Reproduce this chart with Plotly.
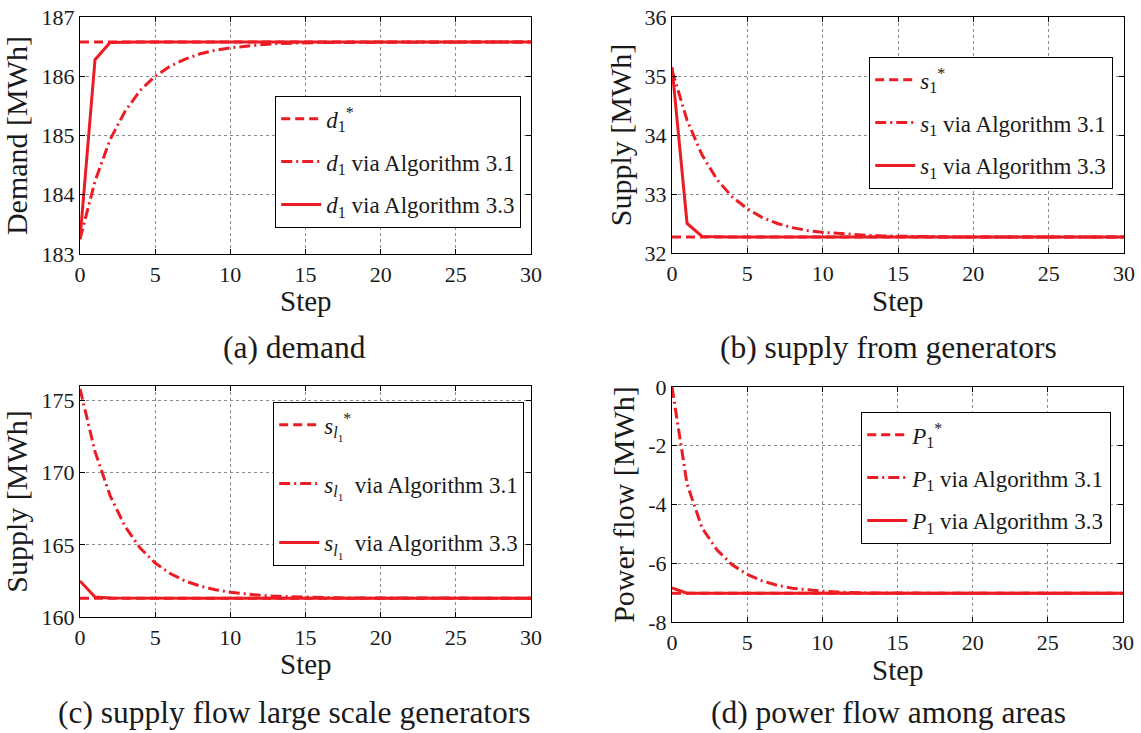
import plotly.graph_objects as go

# ---------------- data ----------------
steps = list(range(31))
steps_ref = [0, 30]

d_star = [186.58, 186.58]
d_alg31 = [183.25, 184.23, 184.93, 185.41, 185.76, 186.00, 186.17, 186.29, 186.38, 186.44,
           186.48, 186.51, 186.53, 186.55, 186.56, 186.56, 186.57, 186.57, 186.57, 186.58,
           186.58, 186.58, 186.58, 186.58, 186.58, 186.58, 186.58, 186.58, 186.58, 186.58,
           186.58]
d_alg33 = [183.25, 186.28, 186.57, 186.58, 186.58, 186.58, 186.58, 186.58, 186.58, 186.58,
           186.58, 186.58, 186.58, 186.58, 186.58, 186.58, 186.58, 186.58, 186.58, 186.58,
           186.58, 186.58, 186.58, 186.58, 186.58, 186.58, 186.58, 186.58, 186.58, 186.58,
           186.58]

s_star = [32.27, 32.27]
s_alg31 = [35.10, 34.25, 33.66, 33.24, 32.95, 32.75, 32.60, 32.50, 32.43, 32.38,
           32.35, 32.33, 32.31, 32.30, 32.29, 32.28, 32.28, 32.28, 32.27, 32.27,
           32.27, 32.27, 32.27, 32.27, 32.27, 32.27, 32.27, 32.27, 32.27, 32.27,
           32.27]
s_alg33 = [35.15, 32.50, 32.28, 32.27, 32.27, 32.27, 32.27, 32.27, 32.27, 32.27,
           32.27, 32.27, 32.27, 32.27, 32.27, 32.27, 32.27, 32.27, 32.27, 32.27,
           32.27, 32.27, 32.27, 32.27, 32.27, 32.27, 32.27, 32.27, 32.27, 32.27,
           32.27]

sl_star = [161.30, 161.30]
sl_alg31 = [175.80, 171.45, 168.41, 166.27, 164.78, 163.74, 163.01, 162.49, 162.14, 161.89,
            161.71, 161.59, 161.50, 161.44, 161.40, 161.37, 161.35, 161.33, 161.32, 161.32,
            161.31, 161.31, 161.31, 161.30, 161.30, 161.30, 161.30, 161.30, 161.30, 161.30,
            161.30]
sl_alg33 = [162.50, 161.38, 161.31, 161.30, 161.30, 161.30, 161.30, 161.30, 161.30, 161.30,
            161.30, 161.30, 161.30, 161.30, 161.30, 161.30, 161.30, 161.30, 161.30, 161.30,
            161.30, 161.30, 161.30, 161.30, 161.30, 161.30, 161.30, 161.30, 161.30, 161.30,
            161.30]

p_star = [-7.02, -7.02]
p_alg31 = [0.00, -3.30, -4.80, -5.55, -6.05, -6.38, -6.60, -6.75, -6.85, -6.91,
           -6.95, -6.98, -7.00, -7.01, -7.01, -7.02, -7.02, -7.02, -7.02, -7.02,
           -7.02, -7.02, -7.02, -7.02, -7.02, -7.02, -7.02, -7.02, -7.02, -7.02,
           -7.02]
p_alg33 = [-6.84, -7.02, -7.02, -7.02, -7.02, -7.02, -7.02, -7.02, -7.02, -7.02,
           -7.02, -7.02, -7.02, -7.02, -7.02, -7.02, -7.02, -7.02, -7.02, -7.02,
           -7.02, -7.02, -7.02, -7.02, -7.02, -7.02, -7.02, -7.02, -7.02, -7.02,
           -7.02]

x_ticks = [0, 5, 10, 15, 20, 25, 30]
y_ticks_a = [183, 184, 185, 186, 187]
y_ticks_b = [32, 33, 34, 35, 36]
y_ticks_c = [160, 165, 170, 175]
y_ticks_d = [-8, -6, -4, -2, 0]
y_ticktext_d = ["-8", "-6", "-4", "-2", "0"]

names_a = ["<i>d</i><sub>1</sub><sup>*</sup>",
           "<i>d</i><sub>1</sub> via Algorithm 3.1",
           "<i>d</i><sub>1</sub> via Algorithm 3.3"]
names_b = ["<i>s</i><sub>1</sub><sup>*</sup>",
           "<i>s</i><sub>1</sub> via Algorithm 3.1",
           "<i>s</i><sub>1</sub> via Algorithm 3.3"]
names_c = ["<i>s</i><sub><i>l</i><sub>1</sub></sub><sup>*</sup>",
           "<i>s</i><sub><i>l</i><sub>1</sub></sub>  via Algorithm 3.1",
           "<i>s</i><sub><i>l</i><sub>1</sub></sub>  via Algorithm 3.3"]
names_d = ["<i>P</i><sub>1</sub><sup>*</sup>",
           "<i>P</i><sub>1</sub> via Algorithm 3.1",
           "<i>P</i><sub>1</sub> via Algorithm 3.3"]

captions = ["(a) demand", "(b) supply from generators",
            "(c) supply flow large scale generators", "(d) power flow among areas"]
y_titles = ["Demand [MWh]", "Supply [MWh]", "Supply [MWh]", "Power flow [MWh]"]
x_title = "Step"

# ---------------- styling ----------------
W, H = 1141, 733
RED = "#ec1c24"
SERIF = "Liberation Serif"
INK = "#1a1a1a"
DASH = "9px,5px"
DASHDOT = "11px,4px,2px,4px"

fig = go.Figure()

panels = [
    dict(ax="", legend="legend", star=d_star, a31=d_alg31, a33=d_alg33, names=names_a),
    dict(ax="2", legend="legend2", star=s_star, a31=s_alg31, a33=s_alg33, names=names_b),
    dict(ax="3", legend="legend3", star=sl_star, a31=sl_alg31, a33=sl_alg33, names=names_c),
    dict(ax="4", legend="legend4", star=p_star, a31=p_alg31, a33=p_alg33, names=names_d),
]

for i, p in enumerate(panels):
    xa, ya = "x" + p["ax"], "y" + p["ax"]
    fig.add_trace(go.Scatter(x=steps_ref, y=p["star"], mode="lines", name=p["names"][0],
                             line=dict(color=RED, width=3, dash=DASH),
                             xaxis=xa, yaxis=ya, legend=p["legend"], legendgroup=f"g{i}a"))
    fig.add_trace(go.Scatter(x=steps, y=p["a31"], mode="lines", name=p["names"][1],
                             line=dict(color=RED, width=3, dash=DASHDOT),
                             xaxis=xa, yaxis=ya, legend=p["legend"], legendgroup=f"g{i}b"))
    fig.add_trace(go.Scatter(x=steps, y=p["a33"], mode="lines", name=p["names"][2],
                             line=dict(color=RED, width=3),
                             xaxis=xa, yaxis=ya, legend=p["legend"], legendgroup=f"g{i}c"))

def px_x(v):
    return v / W

def px_y(v):
    return 1 - v / H

# plot areas in pixels: (left, right, top, bottom)
areas = [(80, 531, 17, 254), (672, 1124, 17, 253), (80, 531, 386, 617), (672, 1123, 387, 622)]
yranges = [[183, 187], [32, 36], [160, 176], [-8, 0]]
yticks = [y_ticks_a, y_ticks_b, y_ticks_c, y_ticks_d]
yticktexts = [None, None, None, y_ticktext_d]
ytitle_standoff = [8, 4, 8, 4]
step_title_y = [301, 301, 664, 670]

common_axis = dict(
    showline=True, linecolor="black", linewidth=1.2, mirror="ticks",
    ticks="inside", ticklen=5, tickcolor="black", tickwidth=1,
    showgrid=True, gridcolor="#8a8a8a", griddash="dot", gridwidth=1,
    zeroline=False, automargin=False,
    tickfont=dict(family=SERIF, size=22, color=INK),
)

layout = dict(
    width=W, height=H, margin=dict(l=0, r=0, t=0, b=0),
    paper_bgcolor="white", plot_bgcolor="white",
    font=dict(family=SERIF, color=INK),
)

for i, (l, r, t, b) in enumerate(areas):
    suf = "" if i == 0 else str(i + 1)
    xa = dict(common_axis)
    xa.update(domain=[px_x(l), px_x(r)], range=[0, 30], tickvals=x_ticks,
              anchor="y" + suf)
    ya = dict(common_axis)
    ya.update(domain=[px_y(b), px_y(t)], range=yranges[i], tickvals=yticks[i],
              anchor="x" + suf,
              title=dict(text=y_titles[i], font=dict(family=SERIF, size=30, color=INK),
                         standoff=ytitle_standoff[i]))
    if yticktexts[i] is not None:
        ya.update(ticktext=yticktexts[i])
    layout["xaxis" + suf] = xa
    layout["yaxis" + suf] = ya

# legends: (left, top, gap)
legend_pos = [(275, 96, 10), (869, 57, 10), (273, 402, 26), (861, 412, 10)]
for i, (lx, ty, gap) in enumerate(legend_pos):
    key = "legend" if i == 0 else f"legend{i + 1}"
    layout[key] = dict(
        x=px_x(lx), y=px_y(ty), xanchor="left", yanchor="top",
        bgcolor="white", bordercolor="black", borderwidth=1.2,
        font=dict(family=SERIF, size=23, color=INK),
        itemwidth=40, tracegroupgap=gap, traceorder="grouped",
    )

fig.update_layout(**layout)

# x axis titles
for i, (l, r, t, b) in enumerate(areas):
    fig.add_annotation(text=x_title, x=px_x((l + r) / 2), y=px_y(step_title_y[i]),
                       xref="paper", yref="paper", showarrow=False,
                       xanchor="center", yanchor="middle",
                       font=dict(family=SERIF, size=29, color=INK))

cap_pos = [(294, 347), (888, 347), (294, 712), (888, 712)]
for text, (cx, cy) in zip(captions, cap_pos):
    fig.add_annotation(text=text, x=px_x(cx), y=px_y(cy), xref="paper", yref="paper",
                       showarrow=False, xanchor="center", yanchor="middle",
                       font=dict(family=SERIF, size=31.5, color=INK))

fig.write_html("out.html")
